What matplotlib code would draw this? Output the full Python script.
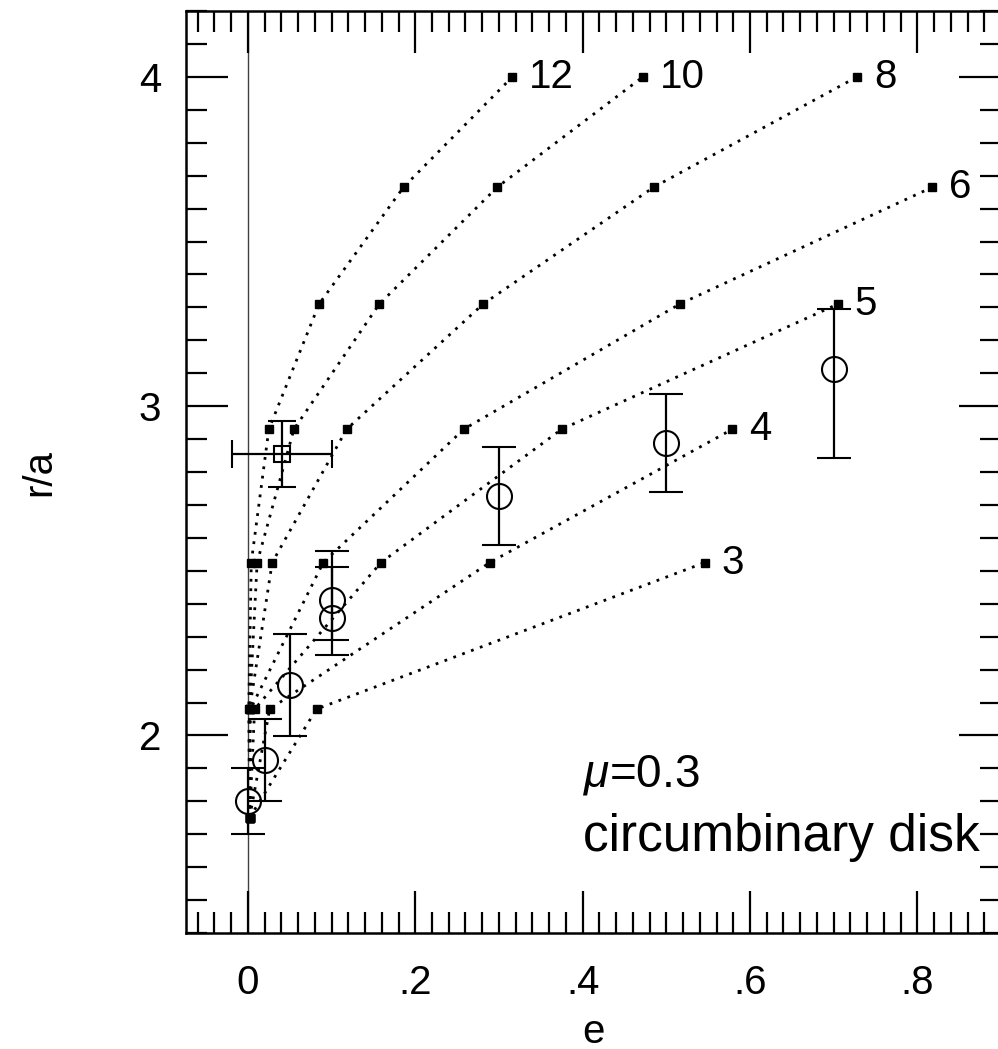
import numpy as np
import matplotlib
matplotlib.use("Agg")
import matplotlib.pyplot as plt
from matplotlib.ticker import MultipleLocator

plt.rcParams['font.family'] = ['Liberation Sans', 'DejaVu Sans']
plt.rcParams['mathtext.fontset'] = 'custom'
plt.rcParams['mathtext.it'] = 'Liberation Sans:italic'
plt.rcParams['mathtext.rm'] = 'Liberation Sans'

r_levels = [1.75, 2.08, 2.525, 2.93, 3.31, 3.665, 4.0]
res_labels = ['3', '4', '5', '6', '8', '10', '12']
e_res_3 = [0.002, 0.082, 0.546]
e_res_4 = [0.002, 0.026, 0.289, 0.579]
e_res_5 = [0.002, 0.008, 0.159, 0.375, 0.705]
e_res_6 = [0.002, 0.003, 0.090, 0.258, 0.516, 0.818]
e_res_8 = [0.002, 0.002, 0.029, 0.118, 0.281, 0.485, 0.728]
e_res_10 = [0.002, 0.002, 0.011, 0.055, 0.157, 0.298, 0.472]
e_res_12 = [0.002, 0.001, 0.004, 0.025, 0.085, 0.186, 0.316]
e_res = [e_res_3, e_res_4, e_res_5, e_res_6, e_res_8, e_res_10, e_res_12]

# disk inner edge from simulations (open circles)
obs_e = [0.0, 0.02, 0.05, 0.1, 0.1, 0.3, 0.5, 0.7]
obs_r = [1.80, 1.925, 2.153, 2.41, 2.357, 2.727, 2.888, 3.112]
obs_lo = [0.10, 0.125, 0.155, 0.165, 0.067, 0.149, 0.148, 0.27]
obs_hi = [0.10, 0.125, 0.155, 0.15, 0.153, 0.149, 0.148, 0.183]

# single open square with x and y errors
sq_e, sq_r = 0.041, 2.854
sq_xerr, sq_yerr = 0.06, 0.1

fig = plt.figure(figsize=(9.98, 10.49), dpi=100)
ax = fig.add_axes([186 / 998, 116 / 1049, 815 / 998, 922 / 1049])

ax.axvline(0, color='0.25', lw=1.0, zorder=1)

for lab, e in zip(res_labels, e_res):
    r = r_levels[:len(e)]
    ax.plot(e, r, color='black', lw=2.0, ls=(0, (1, 2.4)), marker='s',
            ms=6, mfc='black', mec='black', zorder=2)
    ax.text(e[-1] + 0.02, r[-1], lab, fontsize=29, va='center', ha='left')

ax.errorbar(obs_e, obs_r, yerr=[obs_lo, obs_hi], fmt='o', ms=18,
            mfc='none', mec='black', mew=1.5, ecolor='black', elinewidth=1.6,
            capsize=12, capthick=1.6, zorder=3)
ax.errorbar([sq_e], [sq_r], xerr=[sq_xerr], yerr=[sq_yerr], fmt='s', ms=12,
            mfc='none', mec='black', mew=1.5, ecolor='black', elinewidth=1.6,
            capsize=10, capthick=1.6, zorder=3)

ax.text(0.4, 1.88, r'$\mu$=0.3', fontsize=33, va='center')
ax.text(0.4, 1.69, 'circumbinary disk', fontsize=37, va='center')

ax.set_xlim(-0.074, 0.9)
ax.set_ylim(1.4, 4.2)
ax.set_xticks([0, 0.2, 0.4, 0.6, 0.8], ['0', '.2', '.4', '.6', '.8'])
ax.set_yticks([2, 3, 4], ['2', '3', '4'])
ax.xaxis.set_minor_locator(MultipleLocator(0.02))
ax.yaxis.set_minor_locator(MultipleLocator(0.1))
ax.tick_params(which='both', direction='in', top=True, right=True,
               labelsize=29, width=1.6)
ax.tick_params(which='major', length=30)
ax.tick_params(which='minor', length=15)
ax.tick_params(axis='x', pad=22)
ax.tick_params(axis='y', pad=18)
for sp in ax.spines.values():
    sp.set_linewidth(1.8)

ax.set_xlabel('e', fontsize=29, labelpad=8)
ax.set_ylabel('r/a', fontsize=29, labelpad=58)

fig.savefig('out.png', dpi=100)
